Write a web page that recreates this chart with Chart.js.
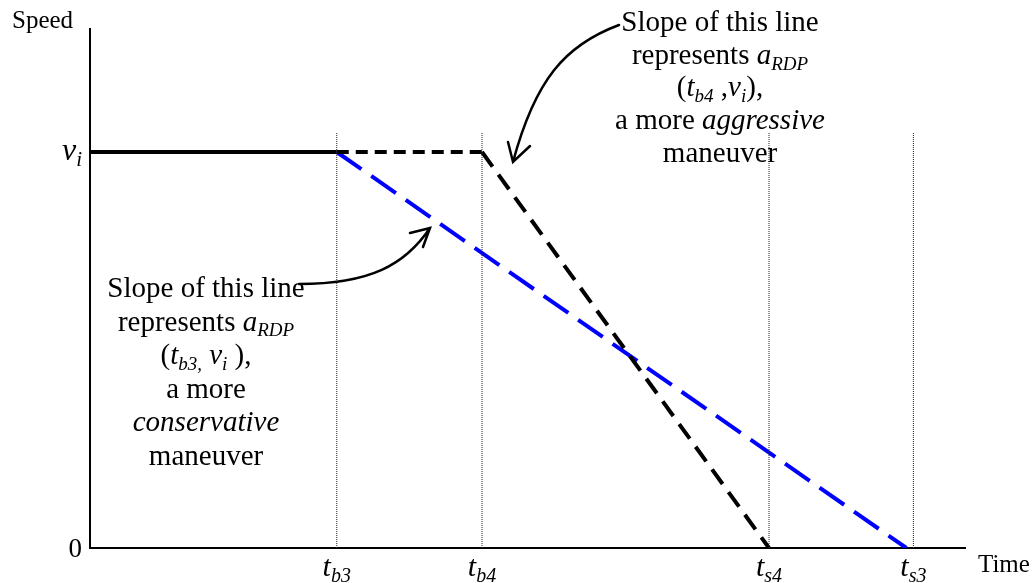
<!DOCTYPE html>
<html>
<head>
<meta charset="utf-8">
<script src="https://cdn.jsdelivr.net/npm/chart.js@4"></script>
<style>
  html, body { margin: 0; padding: 0; background: #fff; }
  #wrap { width: 1034px; height: 583px; }
</style>
</head>
<body>
<div id="wrap"><canvas id="speedChart" width="1034" height="583"></canvas></div>
<script>
// values (time and speed in arbitrary units)
const initialSpeed = 7.63;
const markerNames = ['b3', 'b4', 's4', 's3'];
const markerTimes = [2.82, 4.48, 7.76, 9.41];
const markerTop = 8.0;

const cruiseTimes = [0, 2.82];
const cruiseSpeeds = [7.63, 7.63];
const aggressiveTimes = [2.82, 4.48, 7.76];
const aggressiveSpeeds = [7.63, 7.63, 0];
const conservativeTimes = [2.82, 9.33];
const conservativeSpeeds = [7.63, 0];

const SERIF = '"Liberation Serif", "Times New Roman", serif';

const toPoints = (xs, ys) => xs.map((x, i) => ({ x, y: ys[i] }));

function fontFor(style, size) {
  const sub = style.includes('s');
  const italic = style.includes('i');
  return (italic ? 'italic ' : '') + (sub ? Math.round(size * 0.66) : size) + 'px ' + SERIF;
}

// runs: [text, style] where style has 'i' for italic and 's' for subscript
function drawRich(ctx, runs, x, baseline, size, align = 'center') {
  const widths = runs.map(([t, st]) => {
    ctx.font = fontFor(st, size);
    return ctx.measureText(t).width;
  });
  const total = widths.reduce((a, b) => a + b, 0);
  let cx = align === 'center' ? x - total / 2 : align === 'right' ? x - total : x;
  runs.forEach(([t, st], k) => {
    ctx.font = fontFor(st, size);
    ctx.fillText(t, cx, baseline + (st.includes('s') ? size * 0.2 : 0));
    cx += widths[k];
  });
}

function drawArrow(ctx, p0, c1, c2, tip, wingA, wingB) {
  ctx.beginPath();
  ctx.moveTo(p0[0], p0[1]);
  ctx.bezierCurveTo(c1[0], c1[1], c2[0], c2[1], tip[0], tip[1]);
  ctx.moveTo(wingA[0], wingA[1]);
  ctx.lineTo(tip[0], tip[1]);
  ctx.lineTo(wingB[0], wingB[1]);
  ctx.stroke();
}

const topNote = [
  [['Slope of this line', '']],
  [['represents ', ''], ['a', 'i'], ['RDP', 'si']],
  [['(', ''], ['t', 'i'], ['b4', 'si'], [' ,', ''], ['v', 'i'], ['i', 'si'], ['),', '']],
  [['a more ', ''], ['aggressive', 'i']],
  [['maneuver', '']]
];
const leftNote = [
  [['Slope of this line', '']],
  [['represents ', ''], ['a', 'i'], ['RDP', 'si']],
  [['(', ''], ['t', 'i'], ['b3,', 'si'], [' ', ''], ['v', 'i'], ['i', 'si'], [' ),', '']],
  [['a more', '']],
  [['conservative', 'i']],
  [['maneuver', '']]
];

const labelsPlugin = {
  id: 'labels',
  beforeDatasetsDraw(chart) {
    const { ctx, scales: { x, y } } = chart;
    ctx.save();
    ctx.fillStyle = '#000';
    ctx.textBaseline = 'alphabetic';

    // axis titles
    drawRich(ctx, [['Speed', '']], 12, 28, 25, 'left');
    drawRich(ctx, [['Time', '']], 978, 572, 25, 'left');

    // y labels
    drawRich(ctx, [['0', '']], 82, y.getPixelForValue(0) + 9, 27, 'right');
    drawRich(ctx, [['v', 'i'], ['i', 'si']], 82, y.getPixelForValue(initialSpeed) + 8, 32, 'right');

    // x labels
    markerNames.forEach((name, i) => {
      drawRich(ctx, [['t', 'i'], [name, 'si']], x.getPixelForValue(markerTimes[i]), y.bottom + 28, 30);
    });

    // annotations
    topNote.forEach((line, i) => drawRich(ctx, line, 720, 31 + i * 32.7, 29));
    leftNote.forEach((line, i) => drawRich(ctx, line, 206, 297 + i * 33.5, 29));

    ctx.strokeStyle = '#000';
    ctx.lineWidth = 2.5;
    ctx.lineCap = 'round';
    drawArrow(ctx, [619, 25], [565, 45], [535, 80], [513, 162], [508, 142], [530, 146]);
    drawArrow(ctx, [299, 284], [370, 284], [405, 265], [430, 228], [410, 233], [423, 247]);
    ctx.restore();
  }
};

const markerSets = markerTimes.map((t) => ({
  data: toPoints([t, t], [0, markerTop]),
  borderColor: '#222',
  borderWidth: 1,
  borderDash: [1, 1],
  pointRadius: 0
}));

new Chart(document.getElementById('speedChart'), {
  type: 'line',
  data: {
    datasets: [
      ...markerSets,
      {
        data: toPoints(cruiseTimes, cruiseSpeeds),
        borderColor: '#000',
        borderWidth: 4,
        pointRadius: 0
      },
      {
        data: toPoints(aggressiveTimes, aggressiveSpeeds),
        borderColor: '#000',
        borderWidth: 4,
        pointRadius: 0,
        segment: {
          borderDash: (c) => (c.p0DataIndex === 0 ? [12, 7] : [18, 10])
        }
      },
      {
        data: toPoints(conservativeTimes, conservativeSpeeds),
        borderColor: '#0000ff',
        borderWidth: 4,
        borderDash: [30, 12],
        pointRadius: 0
      }
    ]
  },
  options: {
    responsive: false,
    animation: false,
    devicePixelRatio: 1,
    layout: { padding: { left: 90, top: 29, right: 69, bottom: 35 } },
    scales: {
      x: {
        type: 'linear',
        min: 0,
        max: 10,
        grid: { display: false, drawTicks: false },
        ticks: { display: false },
        border: { display: true, color: '#000', width: 2 }
      },
      y: {
        min: 0,
        max: 10,
        grid: { display: false, drawTicks: false },
        ticks: { display: false },
        border: { display: true, color: '#000', width: 2 }
      }
    },
    plugins: {
      legend: { display: false },
      tooltip: { enabled: false }
    }
  },
  plugins: [labelsPlugin]
});
</script>
</body>
</html>
